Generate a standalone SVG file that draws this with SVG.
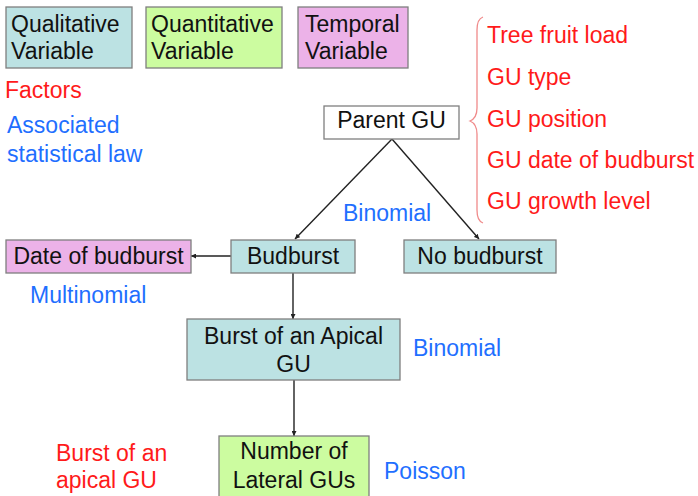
<svg xmlns="http://www.w3.org/2000/svg" width="698" height="496" viewBox="0 0 698 496">
<defs>
<style>
text{font-family:"Liberation Sans",Arial,sans-serif;font-size:23px;}
.dk{fill:#111;}
.red{fill:#ff1a1a;}
.blue{fill:#1f6fff;}
.box{stroke:#7f7f7f;stroke-width:1.3;}
.qual{fill:#bce2e3;}
.quant{fill:#ccfca0;}
.temp{fill:#ecb2e8;}
.white{fill:#fff;}
.c{text-anchor:middle;}
.con{stroke:#222;stroke-width:1.4;fill:none;marker-end:url(#ah);}
</style>
<marker id="ah" viewBox="0 0 10 10" refX="10" refY="5" markerWidth="5" markerHeight="5" orient="auto" markerUnits="userSpaceOnUse">
<path d="M0,0 L10,5 L0,10 z" fill="#222"/>
</marker>
</defs>
<rect width="698" height="496" fill="#fff"/>

<g id="legend-qualitative">
<rect class="box qual" x="6" y="7" width="126" height="61"/>
<text class="dk" x="11" y="32">Qualitative</text>
<text class="dk" x="11" y="59">Variable</text>
</g>
<g id="legend-quantitative">
<rect class="box quant" x="146" y="7" width="136" height="61"/>
<text class="dk" x="151" y="32">Quantitative</text>
<text class="dk" x="151" y="59">Variable</text>
</g>
<g id="legend-temporal">
<rect class="box temp" x="298" y="7" width="110" height="61"/>
<text class="dk" x="305" y="32">Temporal</text>
<text class="dk" x="305" y="59">Variable</text>
</g>

<g id="legend-labels">
<text class="red" x="5" y="98">Factors</text>
<text class="blue" x="7" y="133">Associated</text>
<text class="blue" x="7" y="162">statistical law</text>
</g>

<g id="factors">
<path d="M483,17 Q477,19 477,30 L477,108 Q477,118 470,121 Q477,124 477,134 L477,210 Q477,221 483,223" fill="none" stroke="#f08a8a" stroke-width="1.3"/>
<text class="red" x="487" y="43">Tree fruit load</text>
<text class="red" x="487" y="85">GU type</text>
<text class="red" x="487" y="127">GU position</text>
<text class="red" x="487" y="168">GU date of budburst</text>
<text class="red" x="487" y="209">GU growth level</text>
</g>

<g id="connectors">
<line class="con" x1="392" y1="139" x2="295" y2="239"/>
<line class="con" x1="392" y1="139" x2="479" y2="239"/>
<line class="con" x1="231" y1="256" x2="191" y2="256"/>
<line class="con" x1="293" y1="273" x2="293" y2="319"/>
<line class="con" x1="294" y1="380" x2="294" y2="436"/>
</g>

<g id="parent-gu">
<rect class="box white" x="324" y="106" width="135" height="33"/>
<text class="dk c" x="391.5" y="128">Parent GU</text>
</g>
<g id="budburst">
<rect class="box qual" x="231" y="240" width="124" height="33"/>
<text class="dk c" x="293" y="264">Budburst</text>
</g>
<g id="no-budburst">
<rect class="box qual" x="404" y="240" width="152" height="33"/>
<text class="dk c" x="480" y="264">No budburst</text>
</g>
<g id="date-of-budburst">
<rect class="box temp" x="6" y="240" width="185" height="33"/>
<text class="dk c" x="98.5" y="264">Date of budburst</text>
</g>
<g id="burst-apical">
<rect class="box qual" x="187" y="319" width="213" height="61"/>
<text class="dk c" x="293.5" y="344">Burst of an Apical</text>
<text class="dk c" x="293.5" y="372">GU</text>
</g>
<g id="number-lateral">
<rect class="box quant" x="219" y="436" width="150" height="66"/>
<text class="dk c" x="294" y="459">Number of</text>
<text class="dk c" x="294" y="488">Lateral GUs</text>
</g>

<g id="laws">
<text class="blue" x="343" y="221">Binomial</text>
<text class="blue" x="30" y="303">Multinomial</text>
<text class="blue" x="413" y="356">Binomial</text>
<text class="blue" x="384" y="479">Poisson</text>
</g>
<g id="condition">
<text class="red" x="56" y="461">Burst of an</text>
<text class="red" x="56" y="488">apical GU</text>
</g>
</svg>
